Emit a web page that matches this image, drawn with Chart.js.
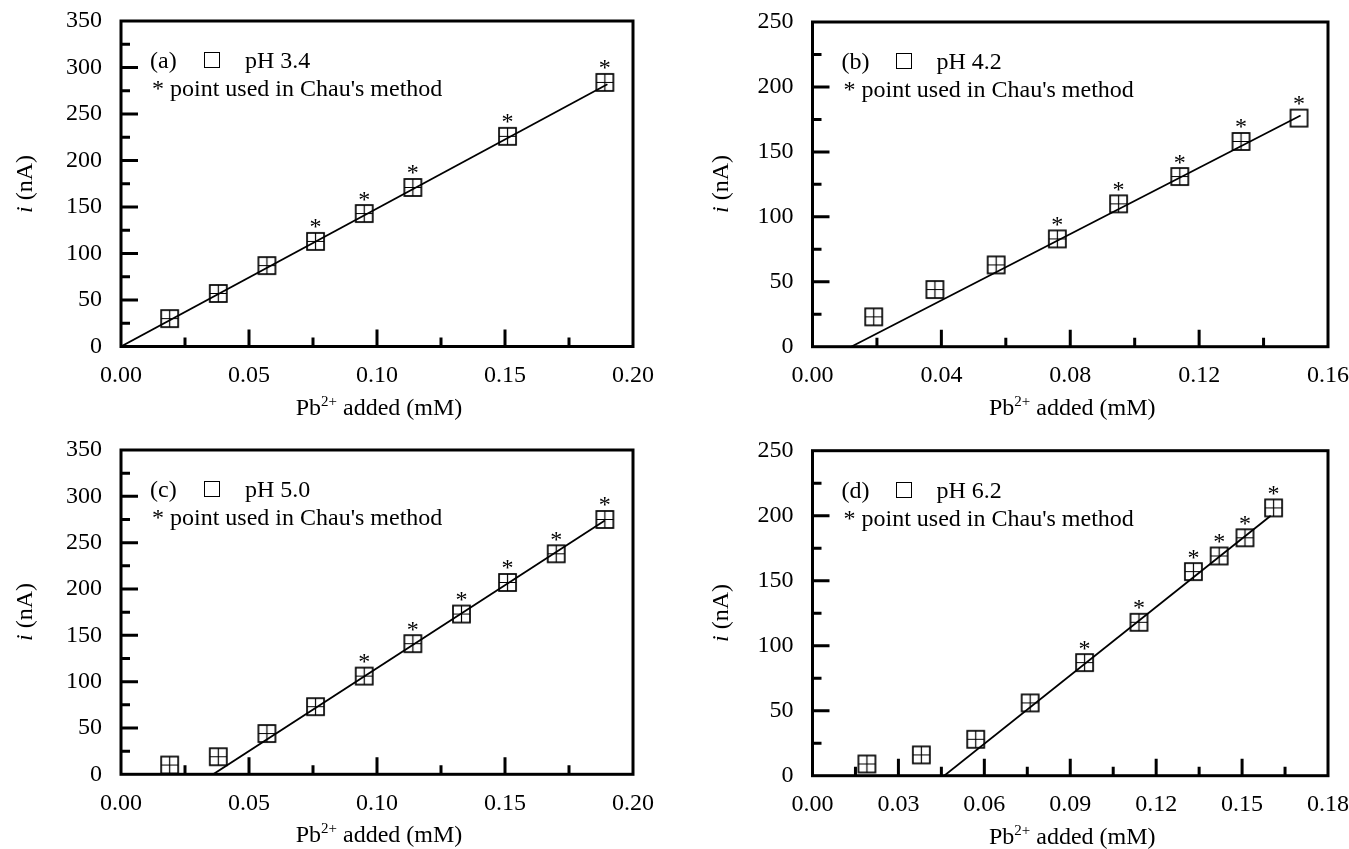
<!DOCTYPE html>
<html>
<head>
<meta charset="utf-8">
<script src="https://cdn.jsdelivr.net/npm/chart.js@4.4.1/dist/chart.umd.min.js"></script>
<style>
  html, body { margin: 0; padding: 0; background: #fff; }
  body { width: 1349px; height: 849px; position: relative; overflow: hidden;
         font-family: "Liberation Serif", "Times New Roman", serif; color: #000; }
  .panel { position: absolute; }
  .panel canvas { position: absolute; left: 0; top: 0; }
  .txt { position: absolute; font-size: 24px; line-height: 28px; white-space: nowrap; }
  .ytitle { transform: translate(-50%, -50%) rotate(-90deg); }
  .xtitle { transform: translate(-50%, -50%); }
  .sup { font-size: 15px; position: relative; top: -9px; }
  .box { position: absolute; width: 14px; height: 14px; border: 1.5px solid #000; }
</style>
</head>
<body>
<script>
// Pb2+ standard additions, current response at four pH values
const concA = [0.019, 0.038, 0.057, 0.076, 0.095, 0.114, 0.151, 0.189];
const currentA = [30, 57, 87, 113, 143, 171, 226, 284];
const starA = [0, 0, 0, 1, 1, 1, 1, 1];
const fitAx = [0, 0.19];
const fitAy = [0, 282];

const concB = [0.019, 0.038, 0.057, 0.076, 0.095, 0.114, 0.133, 0.151];
const currentB = [23, 44, 63, 83, 110, 131, 158, 176];
const starB = [0, 0, 0, 1, 1, 1, 1, 1];
const fitBx = [0.012, 0.1515];
const fitBy = [0, 178];

const concC = [0.019, 0.038, 0.057, 0.076, 0.095, 0.114, 0.133, 0.151, 0.170, 0.189];
const currentC = [10, 19, 44, 73, 106, 141, 173, 207, 238, 275];
const starC = [0, 0, 0, 0, 1, 1, 1, 1, 1, 1];
const fitCx = [0.036, 0.189];
const fitCy = [0, 274];

const concD = [0.019, 0.038, 0.057, 0.076, 0.095, 0.114, 0.133, 0.142, 0.151, 0.161];
const currentD = [9, 16, 28, 56, 87, 118, 157, 169, 183, 206];
const starD = [0, 0, 0, 0, 1, 1, 1, 1, 1, 1];
const fitDx = [0.046, 0.160];
const fitDy = [0, 200];

const panels = [
  { tag: '(a)', ph: 'pH 3.4', x: concA, y: currentA, star: starA, fx: fitAx, fy: fitAy,
    xMax: 0.20, xStep: 0.05, yMax: 350,
    box: { left: 0, top: 0, w: 675, h: 430 }, area: { l: 121, t: 21, r: 633, b: 346.5 }, ytx: 24, plain: [] },
  { tag: '(b)', ph: 'pH 4.2', x: concB, y: currentB, star: starB, fx: fitBx, fy: fitBy,
    xMax: 0.16, xStep: 0.04, yMax: 250,
    box: { left: 675, top: 0, w: 700, h: 430 }, area: { l: 137.5, t: 22, r: 653, b: 346.7 }, ytx: 45, plain: [7] },
  { tag: '(c)', ph: 'pH 5.0', x: concC, y: currentC, star: starC, fx: fitCx, fy: fitCy,
    xMax: 0.20, xStep: 0.05, yMax: 350,
    box: { left: 0, top: 430, w: 675, h: 419 }, area: { l: 121, t: 20, r: 633, b: 344.3 }, ytx: 24, plain: [] },
  { tag: '(d)', ph: 'pH 6.2', x: concD, y: currentD, star: starD, fx: fitDx, fy: fitDy,
    xMax: 0.18, xStep: 0.03, yMax: 250,
    box: { left: 675, top: 430, w: 700, h: 419 }, area: { l: 137.5, t: 20.7, r: 653, b: 345.7 }, ytx: 45, plain: [] }
];

const FONT = '"Liberation Serif", "Times New Roman", serif';

// hollow square marker, optionally with a cross through it
function makeMarker(withCross) {
  const c = document.createElement('canvas');
  c.width = 21; c.height = 21;
  const g = c.getContext('2d');
  g.strokeStyle = '#000';
  g.lineWidth = 1.7;
  g.strokeRect(2, 2, 17, 17);
  if (withCross) {
    g.lineWidth = 1.2;
    g.beginPath();
    g.moveTo(2, 10.5); g.lineTo(19, 10.5);
    g.moveTo(10.5, 2); g.lineTo(10.5, 19);
    g.stroke();
  }
  return c;
}
const crossMark = makeMarker(true);
const plainMark = makeMarker(false);

// frame plus inward major/minor ticks
const frameTicks = {
  id: 'frameTicks',
  afterDraw(chart) {
    const { ctx, chartArea: a, scales } = chart;
    ctx.save();
    ctx.strokeStyle = '#000';
    ctx.lineCap = 'butt';
    ctx.lineWidth = 3;
    ctx.beginPath();
    const drawSet = (scale, horizontal) => {
      const vals = scale.ticks.map(t => t.value);
      const marks = [];
      vals.forEach((v, i) => {
        marks.push([v, 17]);
        if (i < vals.length - 1) marks.push([(v + vals[i + 1]) / 2, 9]);
      });
      marks.forEach(([v, len]) => {
        const p = scale.getPixelForValue(v);
        if (horizontal) {
          if (p <= a.left + 2 || p >= a.right - 2) return;
          ctx.moveTo(p, a.bottom); ctx.lineTo(p, a.bottom - len);
        } else {
          if (p >= a.bottom - 2 || p <= a.top + 2) return;
          ctx.moveTo(a.left, p); ctx.lineTo(a.left + len, p);
        }
      });
    };
    drawSet(scales.x, true);
    drawSet(scales.y, false);
    ctx.stroke();
    ctx.strokeRect(a.left, a.top, a.right - a.left, a.bottom - a.top);
    ctx.restore();
  }
};

// asterisk above the points used in Chau's method
const starMarks = {
  id: 'starMarks',
  afterDatasetsDraw(chart, args, opts) {
    const meta = chart.getDatasetMeta(1);
    const { ctx } = chart;
    ctx.save();
    ctx.fillStyle = '#000';
    ctx.font = '24px ' + FONT;
    ctx.textAlign = 'center';
    ctx.textBaseline = 'alphabetic';
    meta.data.forEach((pt, i) => {
      if (opts.flags[i]) ctx.fillText('*', pt.x, pt.y - 7);
    });
    ctx.restore();
  }
};

panels.forEach(p => {
  const div = document.createElement('div');
  div.className = 'panel';
  Object.assign(div.style, { left: p.box.left + 'px', top: p.box.top + 'px',
    width: p.box.w + 'px', height: p.box.h + 'px' });
  const cv = document.createElement('canvas');
  div.appendChild(cv);
  document.body.appendChild(div);

  const a = p.area;
  const midX = (a.l + a.r) / 2, midY = (a.t + a.b) / 2;
  div.insertAdjacentHTML('beforeend',
    `<div class="txt ytitle" style="left:${p.ytx}px;top:${midY}px"><i>i</i> (nA)</div>` +
    `<div class="txt xtitle" style="left:${midX + 2}px;top:${a.b + 61}px">Pb<span class="sup">2+</span> added (mM)</div>` +
    `<div class="txt" style="left:${a.l + 29}px;top:${a.t + 25}px">${p.tag}</div>` +
    `<div class="box" style="left:${a.l + 83}px;top:${a.t + 31}px"></div>` +
    `<div class="txt" style="left:${a.l + 124}px;top:${a.t + 25}px">${p.ph}</div>` +
    `<div class="txt" style="left:${a.l + 31}px;top:${a.t + 53}px">* point used in Chau's method</div>`);

  const styles = p.x.map((_, i) => p.plain.includes(i) ? plainMark : crossMark);
  const tickFont = { family: FONT, size: 24 };

  new Chart(cv, {
    type: 'scatter',
    data: {
      datasets: [{
        type: 'line',
        data: p.fx.map((v, i) => ({ x: v, y: p.fy[i] })),
        borderColor: '#000',
        borderWidth: 1.8,
        pointRadius: 0,
        fill: false
      }, {
        data: p.x.map((v, i) => ({ x: v, y: p.y[i] })),
        pointStyle: styles,
        pointRadius: 8
      }]
    },
    options: {
      responsive: true,
      maintainAspectRatio: false,
      animation: false,
      events: [],
      layout: { padding: { left: 0, top: a.t, right: p.box.w - a.r, bottom: 0 } },
      plugins: { legend: { display: false }, tooltip: { enabled: false }, starMarks: { flags: p.star } },
      scales: {
        x: {
          type: 'linear', min: 0, max: p.xMax,
          grid: { display: false, drawTicks: false },
          border: { display: false },
          ticks: { stepSize: p.xStep, color: '#000', font: tickFont, padding: 15,
                   autoSkip: false, maxRotation: 0, callback: v => v.toFixed(2) },
          afterFit: s => { s.height = p.box.h - a.b; s.paddingLeft = 0; s.paddingRight = 0; }
        },
        y: {
          type: 'linear', min: 0, max: p.yMax,
          grid: { display: false, drawTicks: false },
          border: { display: false },
          ticks: { stepSize: 50, color: '#000', font: tickFont, padding: 19,
                   callback: v => String(v) },
          afterFit: s => { s.width = a.l; s.paddingTop = 0; s.paddingBottom = 0; }
        }
      }
    },
    plugins: [frameTicks, starMarks]
  });
});
</script>
</body>
</html>
